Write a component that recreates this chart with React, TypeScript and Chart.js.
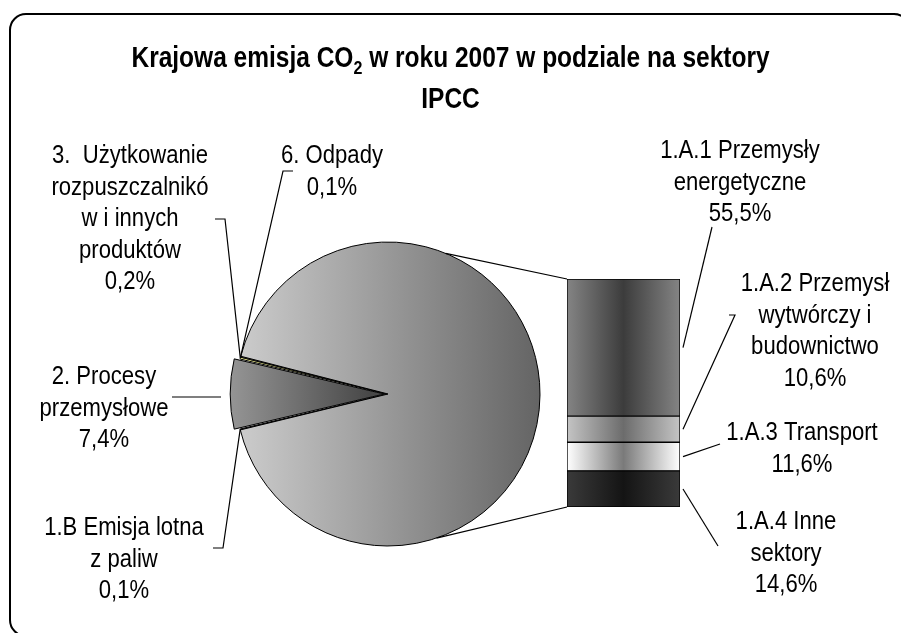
import React, { useEffect, useRef } from "react";
import { Chart, registerables } from "chart.js";
Chart.register(...registerables);

const W = 901;
const H = 633;

// ---- text ----
const titleLine1Parts = [
  { t: "Krajowa emisja CO", sub: false },
  { t: "2", sub: true },
  { t: " w roku 2007 w podziale na sektory", sub: false },
];
const titleLine2 = "IPCC";

// ---- pie data (main pie) ----
const pieCategories = [
  "1.B Emisja lotna z paliw",
  "2. Procesy przemysłowe",
  "3. Użytkowanie rozpuszczalników i innych produktów",
  "6. Odpady",
];
const pieLabelLines = [
  ["1.B Emisja lotna", "z paliw"],
  ["2. Procesy", "przemysłowe"],
  ["3.  Użytkowanie", "rozpuszczalnikó", "w i innych", "produktów"],
  ["6. Odpady"],
];
const pieValues = [0.1, 7.4, 0.2, 0.1];

// ---- bar data (secondary stacked bar = 1.A) ----
const barCategories = [
  "1.A.1 Przemysły energetyczne",
  "1.A.2 Przemysł wytwórczy i budownictwo",
  "1.A.3 Transport",
  "1.A.4 Inne sektory",
];
const barLabelLines = [
  ["1.A.1 Przemysły", "energetyczne"],
  ["1.A.2 Przemysł", "wytwórczy i", "budownictwo"],
  ["1.A.3 Transport"],
  ["1.A.4 Inne", "sektory"],
];
const barValues = [55.5, 10.6, 11.6, 14.6];

// ---- styles / layout ----
const FONT = '"Liberation Sans", Arial, sans-serif';
const LABEL_SIZE = 26;
const LABEL_SX = 0.85;
const TITLE_SIZE = 29;
const TITLE_SX = 0.845;
const LINE_H = 31.5;
const PIE_R = 152;
const EXPLODE = 15;
const barEdge = ["#848484", "#c4c4c4", "#ffffff", "#3a3a3a"];
const barCenter = ["#3c3c3c", "#6c6c6c", "#7a7a7a", "#141414"];
const smallColors = ["#9a9a9a", "", "#ffff99", "#ffffcc"];

const pieLabelLayout = [
  { cx: 124, y0: 528, path: [[213, 548], [223, 548]] },
  { cx: 104, y0: 377, path: [[172, 397]] },
  { cx: 130, y0: 156, path: [[215, 219], [225, 219]] },
  { cx: 332, y0: 156, path: [[293, 171], [283, 171]] },
];
const barLabelLayout = [
  { cx: 740, y0: 151, path: [[712, 227]] },
  { cx: 815, y0: 284, path: [[735, 315], [729, 315]] },
  { cx: 802, y0: 433, path: [[720, 444]] },
  { cx: 786, y0: 522, path: [[718, 546]] },
];
const CONNECT_TOP_DEG = -67.7;
const CONNECT_BOTTOM_DEG = 71.4;

const pct = (v: number) => v.toFixed(1).replace(".", ",") + "%";

function text(ctx: CanvasRenderingContext2D, s: string, x: number, y: number, sx: number) {
  ctx.save();
  ctx.translate(x, y);
  ctx.scale(sx, 1);
  ctx.fillText(s, 0, 0);
  ctx.restore();
}

export default function App() {
  const pieRef = useRef<HTMLCanvasElement>(null);
  const barRef = useRef<HTMLCanvasElement>(null);

  useEffect(() => {
    const aggregated = barValues.reduce((a, b) => a + b, 0);
    const allPie = [...pieValues, aggregated];
    const total = allPie.reduce((a, b) => a + b, 0);
    const startDeg = 180 - ((allPie[0] + allPie[1] / 2) / total) * 360;

    const pieCanvas = pieRef.current!;
    const barCanvas = barRef.current!;
    const pctx = pieCanvas.getContext("2d")!;
    const bctx = barCanvas.getContext("2d")!;

    const slicePoint = (chart: any, i: number) => {
      const el: any = chart.getDatasetMeta(0).data[i];
      const mid = (el.startAngle + el.endAngle) / 2;
      const off = i === 1 ? EXPLODE : 0;
      return {
        x: el.x + Math.cos(mid) * (el.outerRadius + off),
        y: el.y + Math.sin(mid) * (el.outerRadius + off),
      };
    };

    const pieDecor = {
      id: "pieDecor",
      beforeDraw(chart: any) {
        const ctx = chart.ctx;
        ctx.save();
        ctx.fillStyle = "#fff";
        ctx.fillRect(0, 0, W, H);
        const x = 10, y = 14, w = 900, h = 622, r = 16;
        ctx.beginPath();
        ctx.moveTo(x + r, y);
        ctx.lineTo(x + w - r, y);
        ctx.arcTo(x + w, y, x + w, y + r, r);
        ctx.lineTo(x + w, y + h - r);
        ctx.arcTo(x + w, y + h, x + w - r, y + h, r);
        ctx.lineTo(x + r, y + h);
        ctx.arcTo(x, y + h, x, y + h - r, r);
        ctx.lineTo(x, y + r);
        ctx.arcTo(x, y, x + r, y, r);
        ctx.closePath();
        ctx.lineWidth = 2;
        ctx.strokeStyle = "#000";
        ctx.stroke();
        ctx.restore();
      },
      afterDraw(chart: any) {
        const ctx = chart.ctx;
        ctx.save();
        // title
        const big = `bold ${TITLE_SIZE}px ${FONT}`;
        const small = `bold ${Math.round(TITLE_SIZE * 0.65)}px ${FONT}`;
        let tw = 0;
        titleLine1Parts.forEach((p) => {
          ctx.font = p.sub ? small : big;
          tw += ctx.measureText(p.t).width * TITLE_SX;
        });
        let tx = W / 2 - tw / 2;
        ctx.fillStyle = "#000";
        ctx.textBaseline = "alphabetic";
        ctx.textAlign = "left";
        titleLine1Parts.forEach((p) => {
          ctx.font = p.sub ? small : big;
          text(ctx, p.t, tx, p.sub ? 74 : 67, TITLE_SX);
          tx += ctx.measureText(p.t).width * TITLE_SX;
        });
        ctx.font = big;
        ctx.textAlign = "center";
        text(ctx, titleLine2, W / 2, 108, TITLE_SX);

        // pie labels
        ctx.font = `${LABEL_SIZE}px ${FONT}`;
        ctx.textBaseline = "middle";
        pieLabelLines.forEach((lines, i) => {
          const lay = pieLabelLayout[i];
          const all = [...lines, pct(pieValues[i])];
          all.forEach((l, k) => text(ctx, l, lay.cx, lay.y0 + k * LINE_H, LABEL_SX));
          const end = slicePoint(chart, i);
          ctx.beginPath();
          ctx.moveTo(lay.path[0][0], lay.path[0][1]);
          for (let k = 1; k < lay.path.length; k++) ctx.lineTo(lay.path[k][0], lay.path[k][1]);
          if (i === 1) {
            const el: any = chart.getDatasetMeta(0).data[1];
            const ly = lay.path[0][1];
            const ex = el.x - EXPLODE - Math.sqrt(el.outerRadius * el.outerRadius - (ly - el.y) * (ly - el.y));
            ctx.lineTo(ex, ly);
          } else {
            ctx.lineTo(end.x, end.y);
          }
          ctx.lineWidth = 1.2;
          ctx.strokeStyle = "#000";
          ctx.stroke();
        });
        ctx.restore();
      },
    };

    const pie = new Chart(pieCanvas, {
      type: "pie",
      data: {
        labels: [...pieCategories, "1.A Spalanie paliw"],
        datasets: [
          {
            data: allPie,
            borderColor: "#000",
            borderWidth: 1,
            offset: allPie.map((_, i) => (i === 1 ? EXPLODE : 0)),
            backgroundColor: (c: any) => {
              const a = c.chart.chartArea;
              const i = c.dataIndex;
              if (!a || i === undefined) return "#999";
              const cx = (a.left + a.right) / 2;
              if (i === allPie.length - 1) {
                const g = pctx.createLinearGradient(cx - PIE_R, 0, cx + PIE_R, 0);
                g.addColorStop(0, "#cdcdcd");
                g.addColorStop(1, "#646464");
                return g;
              }
              if (i === 1) {
                const g = pctx.createLinearGradient(cx - EXPLODE - PIE_R, 0, cx - EXPLODE, 0);
                g.addColorStop(0, "#9c9c9c");
                g.addColorStop(1, "#484848");
                return g;
              }
              return smallColors[i];
            },
          },
        ],
      },
      options: {
        animation: false,
        responsive: false,
        rotation: startDeg + 90,
        radius: PIE_R,
        layout: { padding: { left: 208, right: 333, top: 224, bottom: 69 } },
        plugins: { legend: { display: false }, tooltip: { enabled: false }, title: { display: false } },
      } as any,
      plugins: [pieDecor],
    });

    const order = barValues.map((_, i) => i).reverse();

    const barDecor = {
      id: "barDecor",
      afterDraw(chart: any) {
        const ctx = chart.ctx;
        ctx.save();
        ctx.strokeStyle = "#000";
        ctx.lineWidth = 1.2;
        const elFor = (j: number) => chart.getDatasetMeta(order.indexOf(j)).data[0] as any;
        const topEl = elFor(0);
        const botEl = elFor(barValues.length - 1);
        const left = topEl.x - topEl.width / 2;
        const right = topEl.x + topEl.width / 2;
        const pel: any = pie.getDatasetMeta(0).data[allPie.length - 1];
        const t = (CONNECT_TOP_DEG * Math.PI) / 180;
        const b = (CONNECT_BOTTOM_DEG * Math.PI) / 180;
        ctx.beginPath();
        ctx.moveTo(left, topEl.y);
        ctx.lineTo(pel.x + Math.cos(t) * pel.outerRadius, pel.y + Math.sin(t) * pel.outerRadius);
        ctx.moveTo(left, botEl.base);
        ctx.lineTo(pel.x + Math.cos(b) * pel.outerRadius, pel.y + Math.sin(b) * pel.outerRadius);
        ctx.stroke();
        ctx.font = `${LABEL_SIZE}px ${FONT}`;
        ctx.fillStyle = "#000";
        ctx.textAlign = "center";
        ctx.textBaseline = "middle";
        barLabelLines.forEach((lines, j) => {
          const lay = barLabelLayout[j];
          const all = [...lines, pct(barValues[j])];
          all.forEach((l, k) => text(ctx, l, lay.cx, lay.y0 + k * LINE_H, LABEL_SX));
          const el = elFor(j);
          const my = (el.y + el.base) / 2;
          ctx.beginPath();
          ctx.moveTo(right + 3, my);
          lay.path.forEach((p) => ctx.lineTo(p[0], p[1]));
          ctx.stroke();
        });
        ctx.restore();
      },
    };

    const bar = new Chart(barCanvas, {
      type: "bar",
      data: {
        labels: ["1.A"],
        datasets: order.map((j) => ({
          label: barCategories[j],
          data: [barValues[j]],
          borderColor: "#000",
          borderWidth: 1,
          borderSkipped: false,
          barPercentage: 1,
          categoryPercentage: 1,
          backgroundColor: (c: any) => {
            const a = c.chart.chartArea;
            if (!a) return barEdge[j];
            const g = bctx.createLinearGradient(a.left, 0, a.right, 0);
            g.addColorStop(0, barEdge[j]);
            g.addColorStop(0.5, barCenter[j]);
            g.addColorStop(1, barEdge[j]);
            return g;
          },
        })),
      },
      options: {
        animation: false,
        responsive: false,
        layout: { padding: { left: 567, right: 221, top: 279, bottom: 126 } },
        scales: {
          x: { display: false, stacked: true },
          y: { display: false, stacked: true, min: 0, max: aggregated },
        },
        plugins: { legend: { display: false }, tooltip: { enabled: false } },
      } as any,
      plugins: [barDecor],
    });

    return () => {
      bar.destroy();
      pie.destroy();
    };
  }, []);

  return (
    <div style={{ position: "fixed", left: 0, top: 0, width: W, height: H, background: "#fff" }}>
      <canvas ref={pieRef} width={W} height={H} style={{ position: "absolute", left: 0, top: 0 }} />
      <canvas ref={barRef} width={W} height={H} style={{ position: "absolute", left: 0, top: 0 }} />
    </div>
  );
}
